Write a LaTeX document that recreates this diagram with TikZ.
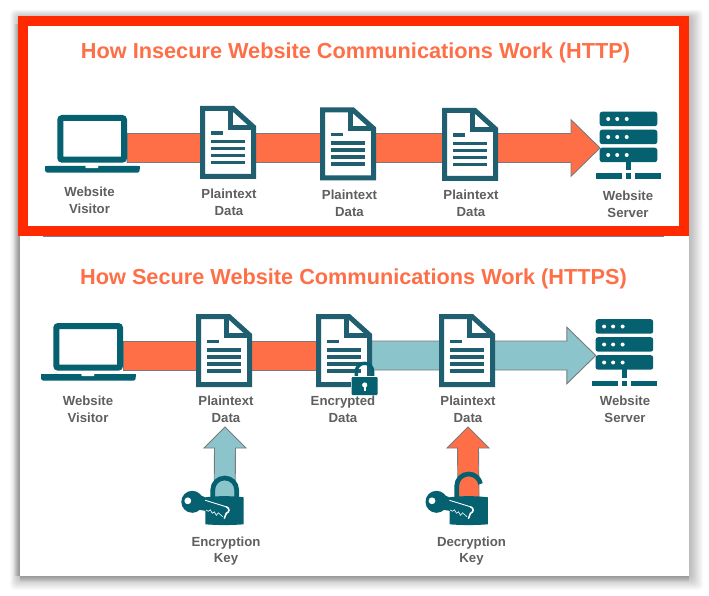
\documentclass[tikz,border=0pt]{standalone}
\usepackage{fontspec}
\setmainfont{Liberation Sans}
\usetikzlibrary{calc}
\definecolor{orangeA}{HTML}{FF6F47}
\definecolor{tealA}{HTML}{8CC4CC}
\definecolor{iconT}{HTML}{05606F}
\definecolor{docT}{HTML}{1F5F70}
\definecolor{frameR}{HTML}{FF2A00}
\definecolor{labelG}{HTML}{5F5F5F}
\definecolor{edgeG}{HTML}{7A7A7A}
\definecolor{ruleB}{HTML}{7080A0}
\tikzset{
 x=1pt,y=-1pt,
 anchorbox/.style={draw=none,fill=none,inner sep=0pt,outer sep=0pt,minimum width=#1,minimum height=10pt},
 lbl/.style={font=\fontsize{13.2}{16.5}\selectfont\bfseries,text=labelG,align=center,inner sep=0pt},
 ttl/.style={font=\fontsize{21.7}{26}\selectfont\bfseries,text=orangeA,inner sep=0pt},
 orangearrow/.style={fill=orangeA,draw=edgeG,line width=0.9pt,line join=miter},
 tealarrow/.style={fill=tealA,draw=edgeG,line width=0.9pt,line join=miter},
 docicon/.pic={
  \draw[docT,line width=5pt,fill=white,line join=miter] (2.5,2.5)--(33,2.5)--(53.5,21)--(53.5,70.5)--(2.5,70.5)--cycle;
  \draw[docT,line width=5pt] (30.5,1)--(30.5,21.5)--(55,21.5);
  \fill[docT] (11,25.5) rectangle (23,29);
  \foreach \yy in {34,41,48,55}{\fill[docT] (11,\yy) rectangle (45,\yy+3.5);}
 },
 laptopicon/.pic={
  \draw[iconT,line width=6pt,fill=white,rounded corners=2pt] (3,44.7)--(3,3)--(66.7,3)--(66.7,44.7)--cycle;
  \fill[iconT,rounded corners=2.5pt] (-12.3,51)--(82.4,51)--(82.4,57.7)--(-12.3,57.7)--cycle;
  \fill[iconT] (-12.3,51) rectangle (82.4,54);
  \fill[white,rounded corners=1pt] (28,50.5) rectangle (41,53.2);
 },
 servericon/.pic={
  \foreach \yy in {0,18,36}{
   \fill[iconT,rounded corners=2.5pt] (0,\yy) rectangle (57.6,\yy+14.5);
   \foreach \xx in {8.5,17.5,27}{\fill[white] (\xx,\yy+7.3) circle[radius=2];}
  }
  \fill[iconT] (26.6,50) rectangle (31.3,58.5);
  \fill[iconT] (-4,61.6) rectangle (22.6,67);
  \fill[iconT] (26.6,61.6) rectangle (31.3,67);
  \fill[iconT] (35.3,61.6) rectangle (61.3,67);
 },
 keylock/.pic={
  % body
  \fill[iconT] (0,0)..controls (12,-1.5) and (26,-1.5) ..(38.4,0)--(38.4,27)..controls (26,28) and (12,28) ..(0,27)--cycle;
  % key
  \fill[iconT] (-13,4.5) circle[radius=11];
  \fill[iconT] (-9,-4)--(3,1.5)--(3,14)--(-9,12)--cycle;
  \fill[white] (-17.5,3.5) circle[radius=3.4];
  \draw[white,line width=0.9pt] (0,3)--(21,9.5);
  \draw[white,line width=1.6pt,line cap=round] (21,9.5)..controls (25,11) and (24,15) ..(21,16)--(19,21);
  \draw[white,line width=0.6pt] (0.7,12.7)--(3,14)--(5,12.5)--(7,16)--(9,14.5)--(11,18)--(13,15.5)--(17.4,19.4);
 }
}
\newcommand{\headarrowH}[3]{%
 \draw[#3] ($(#1)+(0,-14.5)$)--($(#2)+(-29,-14.5)$)--($(#2)+(-29,-28.3)$)--(#2)--($(#2)+(-29,28.3)$)--($(#2)+(-29,14.5)$)--($(#1)+(0,14.5)$)--cycle;}
\newcommand{\headarrowV}[3]{%
 \draw[#3] ($(#1)+(-10.5,0)$)--($(#2)+(-10.5,21)$)--($(#2)+(-21,21)$)--(#2)--($(#2)+(21,21)$)--($(#2)+(10.5,21)$)--($(#1)+(10.5,0)$)--cycle;}
\begin{document}
\begin{tikzpicture}
\useasboundingbox (0,0) rectangle (709,596);
\fill[white] (0,0) rectangle (709,596);
% soft card shadow
\foreach \i in {1,2,...,14}{
 \fill[black,opacity=0.018,rounded corners=4pt] (20-\i*0.7,18-\i*0.6) rectangle (689+\i,576+\i);
}
\foreach \i in {1,2,...,6}{
 \fill[black,opacity=0.035] (20-\i,24) rectangle (20,576);
 \fill[black,opacity=0.03] (20,576) rectangle (689,576+\i);
}
\fill[white] (20,18) rectangle (689,576);
% upper panel frame
\draw[frameR,line width=10pt,line join=miter] (23,21) rectangle (684,231);
\node[anchorbox=1pt] (ruleL) at (43,236.5) {};
\node[anchorbox=1pt] (ruleR) at (664,236.5) {};
\draw[ruleB,line width=0.8pt] (ruleL.center)--(ruleR.center);
% titles
\node[ttl] (title1) at (355.5,53.2) {How Insecure Website Communications Work (HTTP)};
\node[ttl] (title2) at (353.5,278.5) {How Secure Website Communications Work (HTTPS)};
% anchors for icons
\coordinate (axis1) at (0,148);
\coordinate (axis2) at (0,355.5);
\node[anchorbox=69.7pt] (lap1) at (92.2,139) {};
\node[anchorbox=57.6pt] (srv1) at (628.8,148) {};
\node[anchorbox=56pt] (doc1a) at (228,148) {};
\node[anchorbox=69.7pt] (lap2) at (88.2,347) {};
\node[anchorbox=57.6pt] (srv2) at (624.6,355.5) {};
\node[anchorbox=56pt] (doc2b) at (344,355.5) {};
\coordinate (A1) at (lap1.east |- axis1);
\coordinate (B1) at (srv1.west |- axis1);
\coordinate (A2) at (lap2.east |- axis2);
\coordinate (M2) at (doc2b.center);
\coordinate (B2) at (srv2.west |- axis2);
% horizontal connectors
\headarrowH{A1}{B1}{orangearrow}
\draw[orangearrow] ($(A2)+(0,-14.5)$) rectangle ($(M2)+(0,14.5)$);
\headarrowH{M2}{B2}{tealarrow}
% upper icons
\pic at (57.3,115) {laptopicon};
\pic at (200,106) {docicon};
\pic at (320,107.5) {docicon};
\pic at (442,108) {docicon};
\pic at (599.7,111.7) {servericon};
% lower icons
\pic at (53.3,323) {laptopicon};
\pic at (196,314) {docicon};
\pic at (316,314) {docicon};
\pic at (439,314) {docicon};
\pic at (595.6,319.2) {servericon};
% small lock on document
\draw[iconT,line width=3.4pt] (356.3,379)--(356.3,371.5) arc[start angle=180,end angle=360,radius=8.2]--(372.7,379);
\fill[white] (350.7,376) rectangle (378.7,396);
\fill[iconT,rounded corners=1pt] (351.7,377) rectangle (377.7,395);
\fill[white] (364.7,385) circle[radius=2.6];
\fill[white] (363.6,386) rectangle (365.8,391);
% key arrows and locks
\node[anchorbox=38.4pt] (lock1) at (224.5,510.8) {};
\node[anchorbox=38.4pt] (lock2) at (468.7,510.8) {};
\coordinate (T1) at (225,427);
\coordinate (T2) at (468,427);
\headarrowV{lock1.center}{T1}{tealarrow}
\headarrowV{lock2.center}{T2}{orangearrow}
\draw[iconT,line width=4.7pt] (212.7,500)--(212.7,490) arc[start angle=180,end angle=360,radius=12]--(236.7,500);
\pic at (205.3,497.3) {keylock};
\draw[iconT,line width=4.7pt] (456.7,500)--(456.7,486) arc[start angle=180,end angle=350,radius=12];
\pic at (449.5,497.3) {keylock};
% labels
\node[lbl] (lv1) at (89.5,200.3) {Website\\Visitor};
\node[lbl] (lp1) at (229,202.3) {Plaintext\\Data};
\node[lbl] (lp2) at (349.5,203.3) {Plaintext\\Data};
\node[lbl] (lp3) at (471,203.3) {Plaintext\\Data};
\node[lbl] (ls1) at (628,204.3) {Website\\Server};
\node[lbl] (lv2) at (88,409.3) {Website\\Visitor};
\node[lbl] (lp4) at (226,409.3) {Plaintext\\Data};
\node[lbl] (le) at (343,409.3) {Encrypted\\Data};
\node[lbl] (lp5) at (468,409.3) {Plaintext\\Data};
\node[lbl] (ls2) at (625,409.3) {Website\\Server};
\node[lbl] (lk1) at (226,551.3) {Encryption\\Key};
\node[lbl] (lk2) at (471.5,551.3) {Decryption\\Key};
\end{tikzpicture}
\end{document}
